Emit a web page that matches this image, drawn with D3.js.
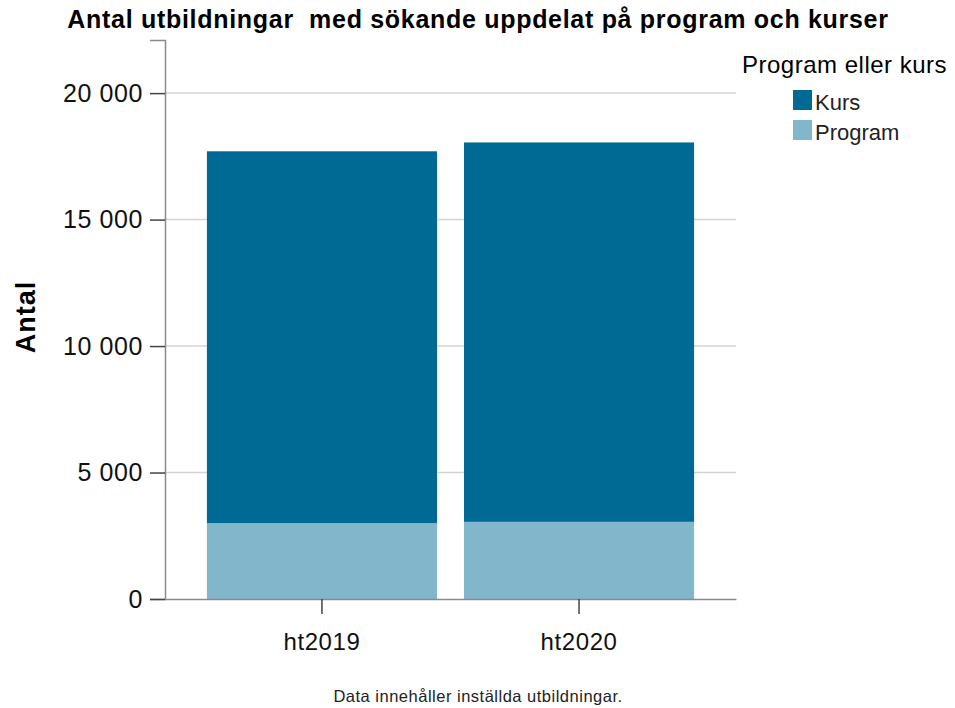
<!DOCTYPE html>
<html>
<head>
<meta charset="utf-8">
<script src="https://cdn.jsdelivr.net/npm/d3@7"></script>
<style>
  body { margin: 0; background: #fff; }
  text { font-family: "Liberation Sans", Arial, sans-serif; }
</style>
</head>
<body>
<div id="chart"></div>
<script>
var terms = ["ht2019", "ht2020"];
var seriesNames = ["Program", "Kurs"];
var programValues = [3000, 3050];
var kursValues = [14700, 15000];
var yTicks = [0, 5000, 10000, 15000, 20000];
var colors = { Kurs: "#006a94", Program: "#82b6cb" };

var W = 955, H = 708;
var svg = d3.select("#chart").append("svg")
    .attr("width", W)
    .attr("height", H);

var rows = terms.map(function(t, i){
    return { term: t, Program: programValues[i], Kurs: kursValues[i] };
});
var stacked = d3.stack().keys(seriesNames)(rows);

var x = d3.scaleBand()
    .domain(terms)
    .range([165, 736])
    .paddingInner(0.105)
    .paddingOuter(0.163);

var y = d3.scaleLinear()
    .domain([0, 22100])
    .range([599, 40]);

// grid lines
svg.append("g")
    .selectAll("line")
    .data(yTicks.slice(1))
    .enter().append("line")
    .attr("x1", 165).attr("x2", 736)
    .attr("y1", function(d){ return y(d); })
    .attr("y2", function(d){ return y(d); })
    .attr("stroke", "#d4d4d4")
    .attr("stroke-width", 1.5);

// bars
svg.append("g")
    .selectAll("g")
    .data(stacked)
    .enter().append("g")
    .attr("fill", function(s){ return colors[s.key]; })
    .selectAll("rect")
    .data(function(s){ return s; })
    .enter().append("rect")
    .attr("x", function(d){ return x(d.data.term); })
    .attr("width", x.bandwidth())
    .attr("y", function(d){ return y(d[1]); })
    .attr("height", function(d){ return y(d[0]) - y(d[1]); });

// y axis
var yAxis = svg.append("g")
    .attr("transform", "translate(165,0)")
    .call(d3.axisLeft(y).tickValues(yTicks).tickSize(15).tickPadding(7)
        .tickFormat(function(d){ return d3.format(",")(d).replace(/,/g, " "); }));
yAxis.select(".domain").attr("stroke", "#8a8a8a").attr("stroke-width", 1.5);
yAxis.selectAll(".tick line").attr("stroke", "#444").attr("stroke-width", 1.5);
yAxis.selectAll(".tick text").attr("font-size", 25).attr("fill", "#111")
    .attr("letter-spacing", 0.6)
    .attr("font-family", "Liberation Sans, Arial, sans-serif");

// x axis
var xAxis = svg.append("g")
    .attr("transform", "translate(0,599)")
    .call(d3.axisBottom(x).tickSize(15).tickSizeOuter(0));
xAxis.select(".domain").attr("stroke", "#8a8a8a").attr("stroke-width", 1.5);
xAxis.selectAll(".tick line").attr("stroke", "#444").attr("stroke-width", 1.5);
xAxis.selectAll(".tick text").attr("font-size", 24).attr("fill", "#111")
    .attr("letter-spacing", 0.6)
    .attr("y", 51).attr("dy", null)
    .attr("font-family", "Liberation Sans, Arial, sans-serif");

// title
svg.append("text")
    .attr("x", 478).attr("y", 28)
    .attr("text-anchor", "middle")
    .attr("font-size", 25).attr("font-weight", "bold")
    .attr("letter-spacing", 0.7)
    .style("white-space", "pre")
    .text("Antal utbildningar  med sökande uppdelat på program och kurser");

// y label
svg.append("text")
    .attr("transform", "translate(35,317) rotate(-90)")
    .attr("text-anchor", "middle")
    .attr("font-size", 27).attr("font-weight", "bold")
    .attr("letter-spacing", 1)
    .text("Antal");

// legend
svg.append("text")
    .attr("x", 742).attr("y", 73)
    .attr("font-size", 24)
    .attr("letter-spacing", 0.5)
    .text("Program eller kurs");
var legendItems = ["Kurs", "Program"];
var lg = svg.append("g").selectAll("g")
    .data(legendItems)
    .enter().append("g")
    .attr("transform", function(d, i){ return "translate(793," + (90 + i * 30) + ")"; });
lg.append("rect")
    .attr("width", 19).attr("height", 20)
    .attr("fill", function(d){ return colors[d]; });
lg.append("text")
    .attr("x", 22).attr("y", 20)
    .attr("font-size", 22).attr("fill", "#222")
    .text(function(d){ return d; });

// footnote
svg.append("text")
    .attr("x", 478).attr("y", 702)
    .attr("text-anchor", "middle")
    .attr("font-size", 16.5).attr("fill", "#222")
    .attr("letter-spacing", 0.5)
    .text("Data innehåller inställda utbildningar.");
</script>
</body>
</html>
